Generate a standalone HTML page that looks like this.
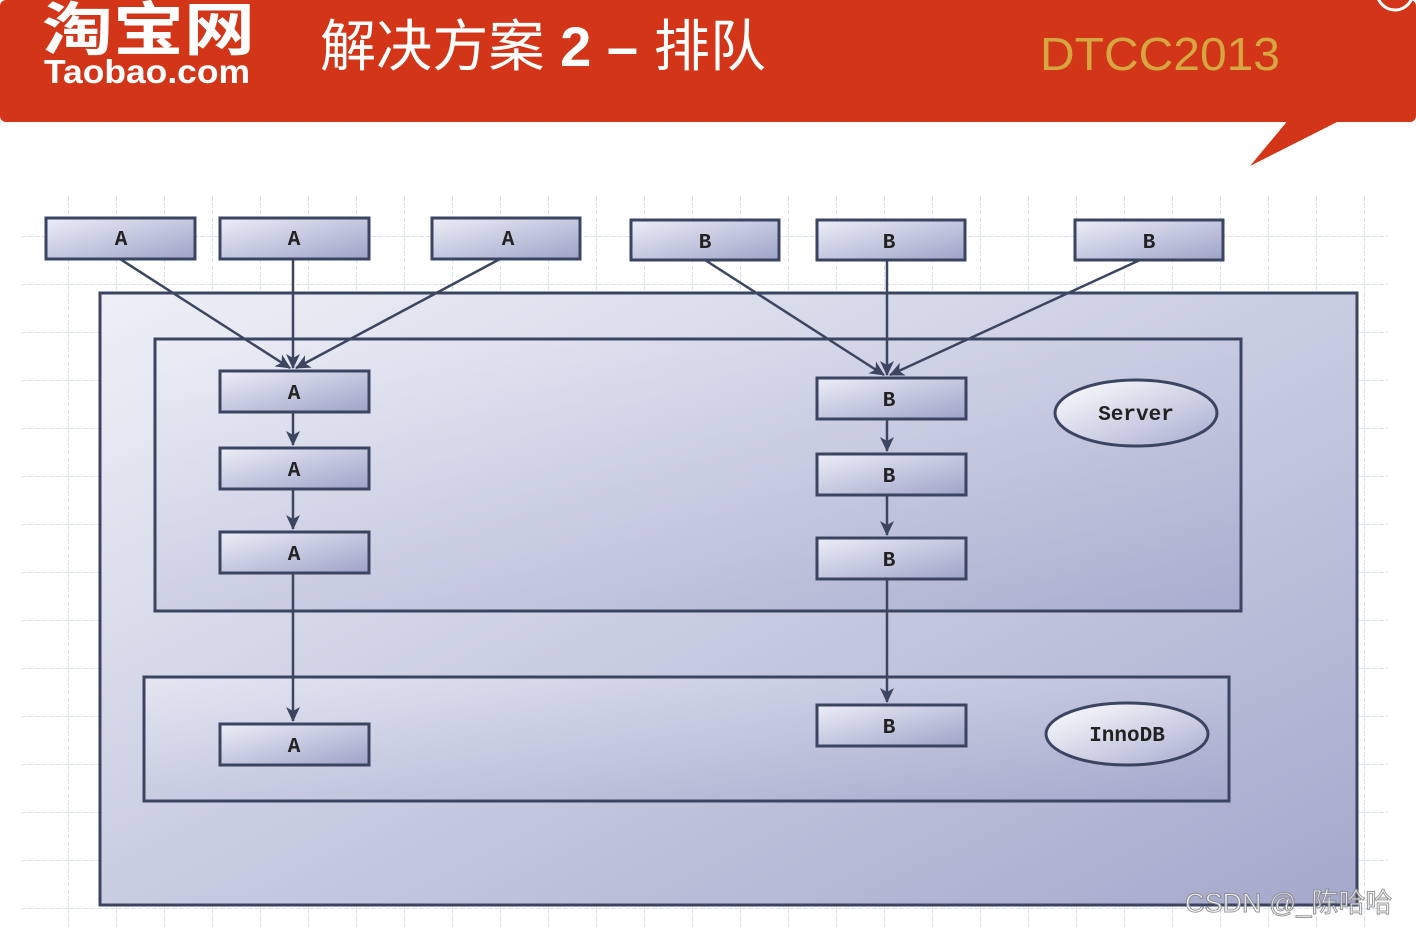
<!DOCTYPE html>
<html><head><meta charset="utf-8"><style>
body{margin:0;width:1416px;height:928px;overflow:hidden;background:#fff}
svg{display:block}
</style></head><body>
<svg width="1416" height="928" xmlns="http://www.w3.org/2000/svg">
<defs>
<linearGradient id="bg" x1="0" y1="0" x2="1" y2="1">
<stop offset="0" stop-color="#eef0f7"/><stop offset="1" stop-color="#a4a9cc"/></linearGradient>
<linearGradient id="bx" x1="0" y1="0" x2="1" y2="1">
<stop offset="0" stop-color="#eceef7"/><stop offset="1" stop-color="#9ea3c8"/></linearGradient>
<linearGradient id="el" x1="0" y1="0" x2="1" y2="1">
<stop offset="0" stop-color="#ffffff"/><stop offset="1" stop-color="#a8acd0"/></linearGradient>
<pattern id="grid" x="21" y="189" width="48" height="48" patternUnits="userSpaceOnUse">
<path d="M48 0V48M0 48H48" stroke="#c4cfe4" stroke-width="1.3" stroke-dasharray="5 2" fill="none"/>
</pattern>
<marker id="ar" markerWidth="16" markerHeight="16" refX="14" refY="8" orient="auto" markerUnits="userSpaceOnUse">
<path d="M0,1 L15,8 L0,15 L4,8z" fill="#3c4660"/></marker>
</defs>
<rect x="0" y="0" width="1416" height="122" rx="6" fill="#d23518"/>
<polygon points="1290,118 1345,118 1250,166" fill="#d23518"/>
<circle cx="1395" cy="-8" r="18" fill="none" stroke="#fff" stroke-width="3"/>
<text x="42" y="50" textLength="213" lengthAdjust="spacingAndGlyphs" font-family="'Noto Sans CJK SC',sans-serif" font-weight="bold" font-size="58" fill="#fff">淘宝网</text>
<text x="44" y="83" textLength="206" lengthAdjust="spacingAndGlyphs" font-family="'Liberation Sans',sans-serif" font-weight="bold" font-size="33" fill="#fff">Taobao.com</text>
<text x="320" y="66" textLength="446" lengthAdjust="spacingAndGlyphs" font-family="'Liberation Sans','Noto Sans CJK SC',sans-serif" font-size="56" fill="#fff">解决方案 <tspan font-weight="bold">2 –</tspan> 排队</text>
<text x="1040" y="70" textLength="240" lengthAdjust="spacingAndGlyphs" font-family="'Liberation Sans',sans-serif" font-size="46" fill="#d6a640">DTCC2013</text>
<rect x="22" y="195" width="1366" height="732" fill="url(#grid)"/>
<rect x="100" y="293" width="1257" height="612" fill="url(#bg)" stroke="#3b4562" stroke-width="3"/>
<rect x="155" y="339" width="1086" height="272" fill="url(#bx)" stroke="#3b4562" stroke-width="3" fill-opacity="0.6"/>
<rect x="144" y="677" width="1085" height="124" fill="url(#bx)" stroke="#3b4562" stroke-width="3" fill-opacity="0.6"/>
<g stroke="#3b4562" stroke-width="3" fill="url(#bx)">
<rect x="46" y="218" width="149" height="41"/><rect x="220" y="218" width="149" height="41"/><rect x="432" y="218" width="148" height="41"/>
<rect x="631" y="220" width="148" height="40"/><rect x="817" y="220" width="148" height="40"/><rect x="1075" y="220" width="148" height="40"/>
<rect x="220" y="371" width="149" height="41"/><rect x="220" y="448" width="149" height="41"/><rect x="220" y="532" width="149" height="41"/><rect x="220" y="724" width="149" height="41"/>
<rect x="817" y="378" width="149" height="41"/><rect x="817" y="454" width="149" height="41"/><rect x="817" y="538" width="149" height="41"/><rect x="817" y="705" width="149" height="41"/>
<ellipse cx="1136" cy="413" rx="81" ry="33" fill="url(#el)"/>
<ellipse cx="1127" cy="734" rx="81" ry="31" fill="url(#el)"/>
</g>
<g stroke="#3c4660" stroke-width="2.5" marker-end="url(#ar)">
<line x1="120" y1="259" x2="290" y2="368"/><line x1="293" y1="259" x2="293" y2="368"/><line x1="500" y1="259" x2="296" y2="368"/>
<line x1="705" y1="260" x2="884" y2="375"/><line x1="887" y1="260" x2="887" y2="375"/><line x1="1140" y1="260" x2="890" y2="375"/>
<line x1="293" y1="412" x2="293" y2="445"/><line x1="293" y1="489" x2="293" y2="529"/><line x1="293" y1="573" x2="293" y2="721"/>
<line x1="887" y1="419" x2="887" y2="451"/><line x1="887" y1="495" x2="887" y2="535"/><line x1="887" y1="579" x2="887" y2="702"/>
</g>
<g font-family="'Liberation Mono',monospace" font-weight="bold" font-size="21" fill="#222" text-anchor="middle">
<text x="121" y="245">A</text><text x="294" y="245">A</text><text x="508" y="245">A</text>
<text x="705" y="248">B</text><text x="889" y="248">B</text><text x="1149" y="248">B</text>
<text x="294" y="399">A</text><text x="294" y="476">A</text><text x="294" y="560">A</text><text x="294" y="752">A</text>
<text x="889" y="406">B</text><text x="889" y="482">B</text><text x="889" y="566">B</text><text x="889" y="733">B</text>
<text x="1136" y="420">Server</text><text x="1127" y="741">InnoDB</text>
</g>
<text x="1185" y="912" font-family="'Liberation Sans','Noto Sans CJK SC',sans-serif" font-size="27" fill="#fff" stroke="#888" stroke-width="1" opacity="0.85">CSDN @_陈哈哈</text>
</svg>
</body></html>
